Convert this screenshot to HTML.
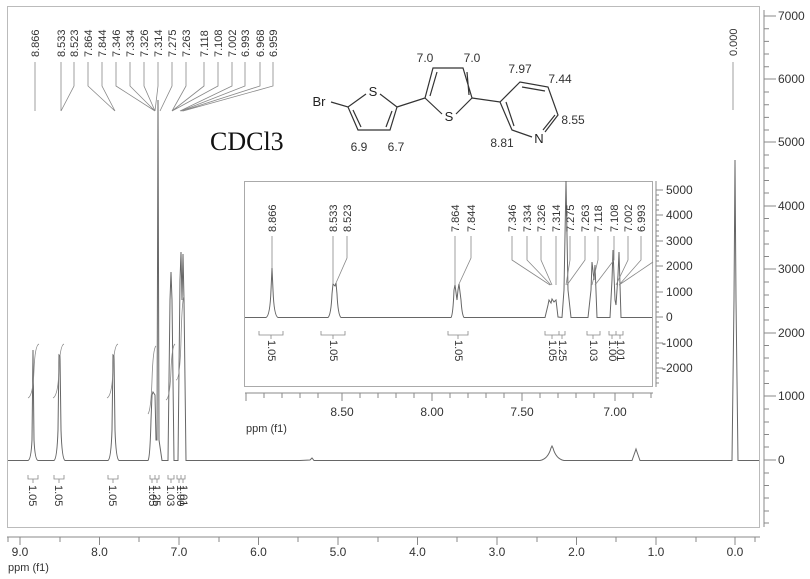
<!DOCTYPE html>
<html><head><meta charset="utf-8"><style>
body{margin:0;background:#fff;}
svg{display:block;font-family:"Liberation Sans",Arial,sans-serif;}
</style></head><body>
<svg width="810" height="579" viewBox="0 0 810 579" xmlns="http://www.w3.org/2000/svg">
<rect x="0" y="0" width="810" height="579" fill="#fff"/>
<!-- main frame -->
<rect x="7.5" y="6.5" width="752" height="521" fill="none" stroke="#bbb" stroke-width="1"/>
<!-- right y axis -->
<g stroke="#888" stroke-width="1">
<line x1="764" y1="10" x2="764" y2="527"/>
<line x1="764" y1="16" x2="776" y2="16"/><line x1="764" y1="79" x2="776" y2="79"/><line x1="764" y1="142" x2="776" y2="142"/><line x1="764" y1="206" x2="776" y2="206"/><line x1="764" y1="269" x2="776" y2="269"/><line x1="764" y1="333" x2="776" y2="333"/><line x1="764" y1="396" x2="776" y2="396"/><line x1="764" y1="460" x2="776" y2="460"/>
<path d="M764 28.7h5M764 41.4h5M764 54h5M764 66.7h5M764 92h5M764 104.7h5M764 117.4h5M764 130h5M764 155h5M764 168h5M764 180.5h5M764 193h5M764 218.5h5M764 231h5M764 244h5M764 256.5h5M764 282h5M764 295h5M764 307.5h5M764 320h5M764 345.5h5M764 358h5M764 371h5M764 383.5h5M764 409h5M764 422h5M764 434.5h5M764 447h5M764 473h5M764 485.5h5M764 498h5M764 511h5M764 523h5"/>
</g>
<g font-size="12" fill="#333">
<text x="778" y="20">7000</text><text x="778" y="83">6000</text><text x="778" y="146">5000</text><text x="778" y="210">4000</text><text x="778" y="273">3000</text><text x="778" y="337">2000</text><text x="778" y="400">1000</text><text x="778" y="464">0</text>
</g>
<!-- bottom x axis -->
<g stroke="#888" stroke-width="1">
<line x1="7" y1="537" x2="760" y2="537"/>
<path d="M20 537v8M60 537v5M99.5 537v8M139 537v5M179 537v8M219 537v5M258.5 537v8M298 537v5M338 537v8M378 537v5M417.5 537v8M457 537v5M497 537v8M537 537v5M576.5 537v8M616 537v5M656 537v8M696 537v5M735 537v8M8 537v5M755 537v5"/>
</g>
<g font-size="12" fill="#333" text-anchor="middle">
<text x="20" y="556">9.0</text><text x="99.5" y="556">8.0</text><text x="179" y="556">7.0</text><text x="258.5" y="556">6.0</text><text x="338" y="556">5.0</text><text x="417.5" y="556">4.0</text><text x="497" y="556">3.0</text><text x="576.5" y="556">2.0</text><text x="656" y="556">1.0</text><text x="735" y="556">0.0</text>
</g>
<text x="8" y="571" font-size="11" fill="#333">ppm (f1)</text>

<!-- main spectrum -->
<path d="M8 460.5 L28 460.5 Q31 460 32 440 L33 350 L34 440 Q35 460 38 460.5 L54 460.5 Q57 459 58 430 L59 355 L60 356 L61 430 Q62 459 65 460.5 L108 460.5 Q111 459 112 430 L113 355 L114 356 L115 430 Q116 459 119 460.5 L148 460.5 Q150 458 151 420 L152 395 L153 392 L155 395 L156 440 L157 440 L158 100 L159 440 L162 460.5 L168 460.5 L170 300 L171 272 L172 300 L174 460.5 L178 460.5 L180 280 L181 252 L182 300 L183 254 L184 300 L186 460.5 L300 460.5 L310 460 L312 458 L314 460.5 L540 460.5 Q548 459 551 448 L552 446 L553 448 Q556 459 564 460.5 L632 460.5 L635 452 L636 449 L637 452 L640 460.5 L732 460.5 L734 300 L735 160 L736 300 L738 460.5 L759 460.5" fill="none" stroke="#666" stroke-width="1"/>
<!-- integration curves main -->
<path d="M28 398 Q33 396 34 370 Q35 345 39 344 M53 398 Q58 396 59 370 Q60 345 64 344 M107 398 Q112 396 113 370 Q114 345 118 344 M148 414 Q151 410 152 380 Q153 348 156 346 M166 400 Q170 398 171 370 Q172 346 175 344 M176 380 Q180 380 181 340 Q182 300 184 296" fill="none" stroke="#888" stroke-width="0.8"/>
<!-- brackets main -->
<g stroke="#888" stroke-width="0.8" fill="none">
<path d="M28 475v4h10v-4M33 479v4M54 475v4h10v-4M59 479v4M108 475v4h10v-4M113 479v4M150 475v4h5v-4M152 479v4M155 475v4h4v-4M157 479v4M168 475v4h6v-4M171 479v4M177 475v4h4v-4M179 479v4M181 475v4h4v-4M183 479v4"/>
</g>
<g font-size="11" fill="#333">
<text transform="translate(29,485) rotate(90)">1.05</text>
<text transform="translate(55,485) rotate(90)">1.05</text>
<text transform="translate(109,485) rotate(90)">1.05</text>
<text transform="translate(149,485) rotate(90)">1.05</text>
<text transform="translate(153,485) rotate(90)">1.25</text>
<text transform="translate(167,485) rotate(90)">1.03</text>
<text transform="translate(177,485) rotate(90)">1.00</text>
<text transform="translate(180,485) rotate(90)">1.01</text>
</g>

<!-- top peak labels -->
<g font-size="11" fill="#333">
<text transform="translate(39,57) rotate(-90)">8.866</text>
<text transform="translate(65,57) rotate(-90)">8.533</text>
<text transform="translate(78,57) rotate(-90)">8.523</text>
<text transform="translate(92,57) rotate(-90)">7.864</text>
<text transform="translate(106,57) rotate(-90)">7.844</text>
<text transform="translate(120,57) rotate(-90)">7.346</text>
<text transform="translate(134,57) rotate(-90)">7.334</text>
<text transform="translate(148,57) rotate(-90)">7.326</text>
<text transform="translate(162,57) rotate(-90)">7.314</text>
<text transform="translate(176,57) rotate(-90)">7.275</text>
<text transform="translate(190,57) rotate(-90)">7.263</text>
<text transform="translate(208,57) rotate(-90)">7.118</text>
<text transform="translate(222,57) rotate(-90)">7.108</text>
<text transform="translate(236,57) rotate(-90)">7.002</text>
<text transform="translate(249,57) rotate(-90)">6.993</text>
<text transform="translate(264,57) rotate(-90)">6.968</text>
<text transform="translate(277,57) rotate(-90)">6.959</text>
<text transform="translate(737,56) rotate(-90)">0.000</text>
</g>
<g stroke="#888" stroke-width="0.8" fill="none">
<path d="M35 62V111M61 62V111M74 62V86L61 111M88 62V86L115 111M102 62V86L115 111M116 62V86L155 111M130 62V86L155 111M144 62V86L155 111M158 62V86L155 111M172 62V86L160 111M186 62V86L172 111M204 62V86L172 111M218 62V86L172 111M232 62V86L180 111M245 62V86L181 111M260 62V86L182 111M273 62V86L183 111M733 62V110"/>
</g>

<text x="210" y="150" font-family="'Liberation Serif',serif" font-size="26" fill="#111">CDCl3</text>

<!-- structure -->
<g stroke="#333" stroke-width="1.2" fill="none">
<path d="M331 102L348 107L366 94M380 94L397 107L390 130L358 130L348 107M353 110L361 127M392 111L386 127"/>
<path d="M397 107L425 98L433 68L463 68L472 98L456 114M442 114L425 98M430 96L437 72M467 72L469 95"/>
<path d="M472 98L500 102L520 82L548 87L558 115L545 132M532 137L512 130L500 102M522 87L545 91M555 115L543 130M506 102L514 126"/>
</g>
<g font-size="13" fill="#222" text-anchor="middle">
<text x="319" y="106">Br</text>
<text x="373" y="96">S</text>
<text x="449" y="121">S</text>
<text x="539" y="143">N</text>
</g>
<g font-size="12" fill="#333" text-anchor="middle">
<text x="425" y="62">7.0</text><text x="472" y="62">7.0</text><text x="520" y="73">7.97</text><text x="560" y="83">7.44</text><text x="573" y="124">8.55</text><text x="502" y="147">8.81</text><text x="359" y="151">6.9</text><text x="396" y="151">6.7</text>
</g>

<!-- inset -->
<rect x="244.5" y="181.5" width="408" height="205" fill="#fff" stroke="#aaa" stroke-width="1"/>
<line x1="158" y1="100" x2="158" y2="181" stroke="#666" stroke-width="1"/>
<g stroke="#888" stroke-width="1">
<line x1="656" y1="181" x2="656" y2="387"/>
<path d="M656 190h7M656 215h7M656 241h7M656 266h7M656 292h7M656 317h7M656 343h7M656 368h7"/>
<path d="M656 195h3M656 200h3M656 205h3M656 210h3M656 220h3M656 225h3M656 231h3M656 236h3M656 246h3M656 251h3M656 256h3M656 261h3M656 271h3M656 277h3M656 282h3M656 287h3M656 297h3M656 302h3M656 307h3M656 312h3M656 322h3M656 327h3M656 333h3M656 338h3M656 348h3M656 353h3M656 358h3M656 363h3M656 373h3M656 378h3M656 383h3"/>
<line x1="245" y1="393" x2="653" y2="393"/>
<path d="M246 393v8M264 393v5M282 393v5M300 393v5M318 393v5M342 393v8M360 393v5M378 393v5M396 393v5M414 393v5M432 393v8M450 393v5M468 393v5M486 393v5M504 393v5M522 393v8M540 393v5M558 393v5M576 393v5M594 393v5M615 393v8M633 393v5M651 393v5"/>
</g>
<g font-size="12" fill="#333">
<text x="666" y="194">5000</text><text x="666" y="219">4000</text><text x="666" y="245">3000</text><text x="666" y="270">2000</text><text x="666" y="296">1000</text><text x="666" y="321">0</text><text x="662" y="347">-1000</text><text x="662" y="372">-2000</text>
</g>
<g font-size="12" fill="#333" text-anchor="middle">
<text x="342" y="416">8.50</text><text x="432" y="416">8.00</text><text x="522" y="416">7.50</text><text x="615" y="416">7.00</text>
</g>
<text x="246" y="432" font-size="11" fill="#333">ppm (f1)</text>
<!-- inset spectrum -->
<path d="M245 317.5 L266 317.5 Q270 316 271 290 L272 268 L273 290 Q274 316 278 317.5 L328 317.5 Q331 315 332 294 L333 284 L335 286 L336 283 L337 294 Q338 315 341 317.5 L451 317.5 Q453 315 454 290 L455 285 L457 300 L458 290 L459 284 L461 300 Q462 315 464 317.5 L545 317.5 L548 305 L549 300 L551 303 L552 299 L554 302 L556 300 L558 317 L562 317.5 L564 290 L566 181 L568 290 L571 317.5 L588 317.5 L591 290 L592 262 L594 280 L595 265 L597 317.5 L610 317.5 L612 280 L613 250 L615 300 L616 305 L618 275 L619 252 L621 317.5 L652 317.5" fill="none" stroke="#666" stroke-width="1"/>
<g font-size="11" fill="#333">
<text transform="translate(276,232) rotate(-90)">8.866</text>
<text transform="translate(337,232) rotate(-90)">8.533</text>
<text transform="translate(351,232) rotate(-90)">8.523</text>
<text transform="translate(459,232) rotate(-90)">7.864</text>
<text transform="translate(475,232) rotate(-90)">7.844</text>
<text transform="translate(516,232) rotate(-90)">7.346</text>
<text transform="translate(531,232) rotate(-90)">7.334</text>
<text transform="translate(545,232) rotate(-90)">7.326</text>
<text transform="translate(560,232) rotate(-90)">7.314</text>
<text transform="translate(574,232) rotate(-90)">7.275</text>
<text transform="translate(589,232) rotate(-90)">7.263</text>
<text transform="translate(602,232) rotate(-90)">7.118</text>
<text transform="translate(618,232) rotate(-90)">7.108</text>
<text transform="translate(632,232) rotate(-90)">7.002</text>
<text transform="translate(645,232) rotate(-90)">6.993</text>
</g>
<g stroke="#888" stroke-width="0.8" fill="none">
<path d="M272 236V268M333 236V284M347 236V258L336 283M455 236V285M471 236V258L459 284M512 236V260L550 285M527 236V260L551 285M541 236V260L552 285M556 236V285M570 236V260L566 285M585 236V260L567 285M598 236V260L592 285M614 236V260L595 285M628 236V260L616 285M641 236V260L619 285M653 262L619 285"/>
<path d="M259 331v4h24v-4M271 335v4M321 331v4h24v-4M333 335v4M448 331v4h20v-4M458 335v4M545 331v4h14v-4M552 335v4M559 331v4h6v-4M562 335v4M587 331v4h13v-4M593 335v4M609 331v4h7v-4M612 335v4M616 331v4h7v-4M620 335v4"/>
</g>
<g font-size="11" fill="#333">
<text transform="translate(268,340) rotate(90)">1.05</text>
<text transform="translate(330,340) rotate(90)">1.05</text>
<text transform="translate(455,340) rotate(90)">1.05</text>
<text transform="translate(549,340) rotate(90)">1.05</text>
<text transform="translate(559,340) rotate(90)">1.25</text>
<text transform="translate(590,340) rotate(90)">1.03</text>
<text transform="translate(609,340) rotate(90)">1.00</text>
<text transform="translate(617,340) rotate(90)">1.01</text>
</g>
</svg>
</body></html>
